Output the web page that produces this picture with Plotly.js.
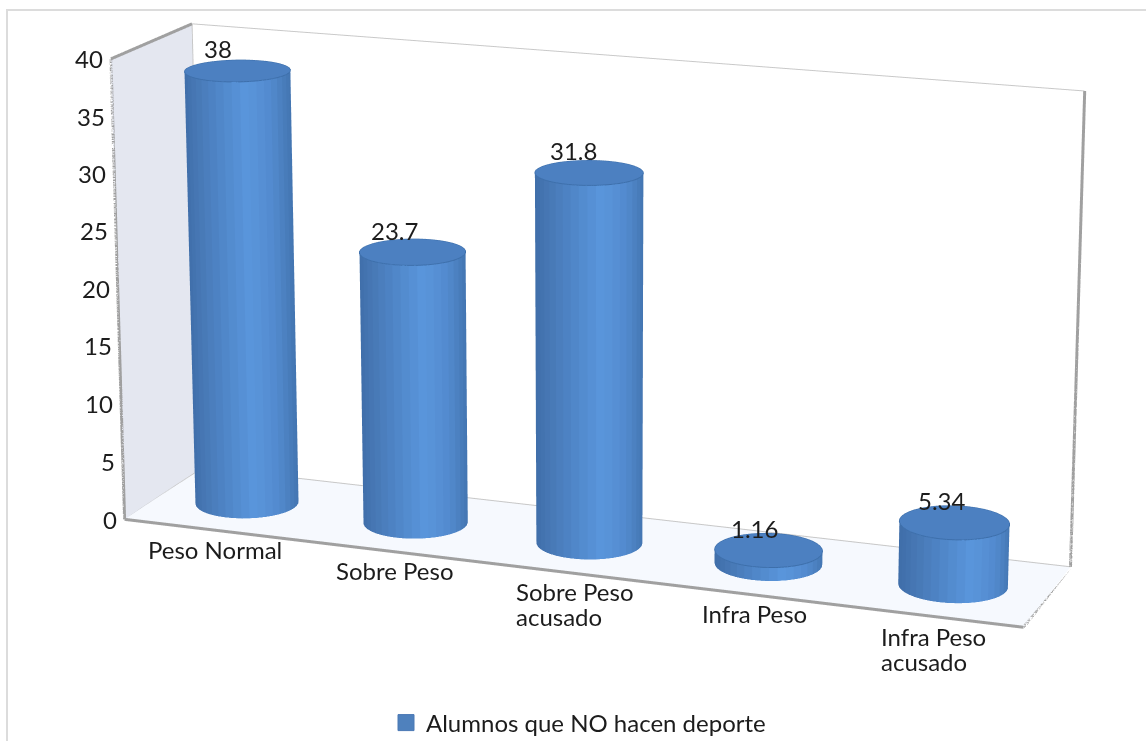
<!DOCTYPE html>
<html><head><meta charset="utf-8"><script src="https://cdn.plot.ly/plotly-3.0.1.min.js"></script>
<style>
html,body{margin:0;padding:0;width:1146px;height:741px;overflow:hidden;background:#fff}
#c{position:absolute;left:1px;top:-1479px;width:1196px;height:3410px}
</style></head><body><div id="c"></div>
<script>
const categories=['Peso Normal','Sobre Peso','Sobre Peso<br>acusado','Infra Peso','Infra Peso<br>acusado'];
const values=[38,23.7,31.8,1.16,5.34];
const valueTicks=[0,5,10,15,20,25,30,35,40];
const seriesName='Alumnos que NO hacen deporte';

// The figure is taller than the window so the fixed 45 degree field of view
// gives the long-lens look of this chart; #c is offset to show the right slice.
const FIG_W=1196,FIG_H=3410,FIG_TOP=1479,FIG_LEFT=1;
const pageY=py=>1-(py+FIG_TOP)/FIG_H;
const pageX=px=>(px-FIG_LEFT)/FIG_W;

const FONT='Lato, sans-serif',INK='#1c1c1c',FONT_SIZE=24,LINE_STEP=25;
const XR=[-0.5,4.5],YR=[0,1],ZR=[0,40];
const RX=0.283,RY=0.28,YC=0.5,FACETS=40;
const FLAT={ambient:1,diffuse:0,specular:0,roughness:1,fresnel:0};
// Unit vector running left to right as seen from the camera.
const SIDE=[0.94,0.34];

const traces=[];
values.forEach((v,i)=>{
  const xs=[[],[]],ys=[[],[]],zs=[[],[]],shade=[[],[]];
  for(let k=0;k<FACETS;k++){
    const a=k/FACETS*2*Math.PI,b=(k+1)/FACETS*2*Math.PI,m=(a+b)/2;
    const s=Math.cos(m)*SIDE[0]+Math.sin(m)*SIDE[1];
    [a,b].forEach(t=>{
      [0,1].forEach(r=>{
        xs[r].push(i+RX*Math.cos(t));
        ys[r].push(YC+RY*Math.sin(t));
        zs[r].push(r?v:0);
        shade[r].push(s);
      });
    });
  }
  traces.push({type:'surface',x:xs,y:ys,z:zs,surfacecolor:shade,cmin:-1,cmax:1,
    colorscale:[[0,'#3f6ea9'],[0.12,'#4777b4'],[0.35,'#4f86c8'],[0.62,'#5a96dc'],[0.85,'#5289cd'],[1,'#4476b2']],
    showscale:false,hoverinfo:'skip',lighting:FLAT,showlegend:false});
  const cx=[i],cy=[YC],cz=[v],ci=[],cj=[],ck=[],rx=[],ry=[],rz=[];
  for(let k=0;k<=FACETS;k++){
    const t=k/FACETS*2*Math.PI;
    rx.push(i+RX*Math.cos(t));ry.push(YC+RY*Math.sin(t));rz.push(v);
    if(k<FACETS){cx.push(rx[k]);cy.push(ry[k]);cz.push(v);ci.push(0);cj.push(k+1);ck.push((k+1)%FACETS+1);}
  }
  traces.push({type:'mesh3d',x:cx,y:cy,z:cz,i:ci,j:cj,k:ck,color:'#4c80c1',flatshading:true,lighting:FLAT,hoverinfo:'skip',showlegend:false});
  traces.push({type:'scatter3d',mode:'lines',x:rx,y:ry,z:rz,line:{color:'#3d6fab',width:2},hoverinfo:'skip',showlegend:false});
});

// Wall and floor edges, from the axis ranges.
function edge(a,b,color,width){
  traces.push({type:'scatter3d',mode:'lines',x:[a[0],b[0]],y:[a[1],b[1]],z:[a[2],b[2]],
    line:{color:color,width:width},hoverinfo:'skip',showlegend:false});
}
const [x0,x1]=XR,[y0,y1]=YR,[z0,z1]=ZR;
const HEAVY='#a0a0a0',LIGHT='#c8c8c8';
edge([x0,y0,z0],[x0,y0,z1],HEAVY,6);
edge([x0,y0,z1],[x0,y1,z1],HEAVY,6);
edge([x0,y0,z0],[x1,y0,z0],HEAVY,6);
edge([x1,y0,z0],[x1,y1,z0],HEAVY,6);
edge([x1,y1,z0],[x1,y1,z1],HEAVY,6);
edge([x0,y1,z1],[x1,y1,z1],LIGHT,2);
edge([x0,y1,z0],[x0,y1,z1],LIGHT,2);
edge([x0,y1,z0],[x1,y1,z0],LIGHT,2);
edge([x0,y0,z0],[x0,y1,z0],LIGHT,2);

// Legend entry (drawn by an empty 2D trace so it gets a square swatch).
traces.push({type:'scatter',mode:'markers',x:[null],y:[null],name:seriesName,
  marker:{symbol:'square',size:16,color:'#4f81bd',line:{color:'#4a78b4',width:1}},hoverinfo:'skip'});

const measure=document.createElement('canvas').getContext('2d');
measure.font=FONT_SIZE+'px Lato';

const annotations=[];
const note=(o)=>annotations.push(Object.assign({showarrow:false,font:{family:FONT,size:FONT_SIZE,color:INK}},o));

// Value ticks sit at even screen steps beside the left edge, hence the small nudge.
valueTicks.forEach(t=>note({x:x0,y:y0,z:t,text:String(t),xanchor:'right',yanchor:'middle',xshift:-6,yshift:t*(40-t)*0.01}));

// Category labels are spaced evenly along the front edge, which perspective
// would otherwise bunch toward the far end; extra lines share the first line's left side.
categories.forEach((c,i)=>{
  const u=(i+0.5)/values.length,even=72*u*(1-u);
  const lines=c.split('<br>');
  const left=even-2-measure.measureText(lines[0]).width/2;
  lines.forEach((line,n)=>note({x:i,y:y0,z:z0,text:line,xanchor:'left',yanchor:'top',xshift:left,yshift:-4-n*LINE_STEP}));
});

values.forEach((v,i)=>note({x:i,y:YC,z:v,text:String(v),xanchor:'center',yanchor:'middle',xshift:-20+2*i,yshift:22}));

const hidden={title:{text:''},showticklabels:false,ticks:'',showgrid:false,zeroline:false,showline:false,showspikes:false,showbackground:true};
Plotly.newPlot('c',traces,{
  width:FIG_W,height:FIG_H,margin:{l:0,r:0,t:0,b:0,pad:0},paper_bgcolor:'#fff',plot_bgcolor:'rgba(0,0,0,0)',
  showlegend:true,
  legend:{x:pageX(386),y:pageY(723),xanchor:'left',yanchor:'middle',font:{family:FONT,size:FONT_SIZE,color:INK},bgcolor:'rgba(0,0,0,0)'},
  xaxis:{visible:false},yaxis:{visible:false},
  shapes:[{type:'rect',xref:'paper',yref:'paper',x0:pageX(7),x1:pageX(1190),y0:pageY(10),y1:pageY(760),
    line:{color:'#dcdcdc',width:2},fillcolor:'rgba(0,0,0,0)'}],
  scene:{
    domain:{x:[0,1],y:[0,1]},
    xaxis:Object.assign({},hidden,{range:XR,backgroundcolor:'#e4e7f0'}),
    yaxis:Object.assign({},hidden,{range:YR,backgroundcolor:'#ffffff'}),
    zaxis:Object.assign({},hidden,{range:ZR,backgroundcolor:'#f6f9fe'}),
    aspectmode:'manual',aspectratio:{x:2,y:0.395,z:1.0187},
    camera:{eye:{x:2.874,y:-7.816,z:2.305},center:{x:0.004,y:0.049,z:0.175},up:{x:0,y:0,z:1}},
    annotations:annotations
  }
},{displayModeBar:false,responsive:false});
</script></body></html>
